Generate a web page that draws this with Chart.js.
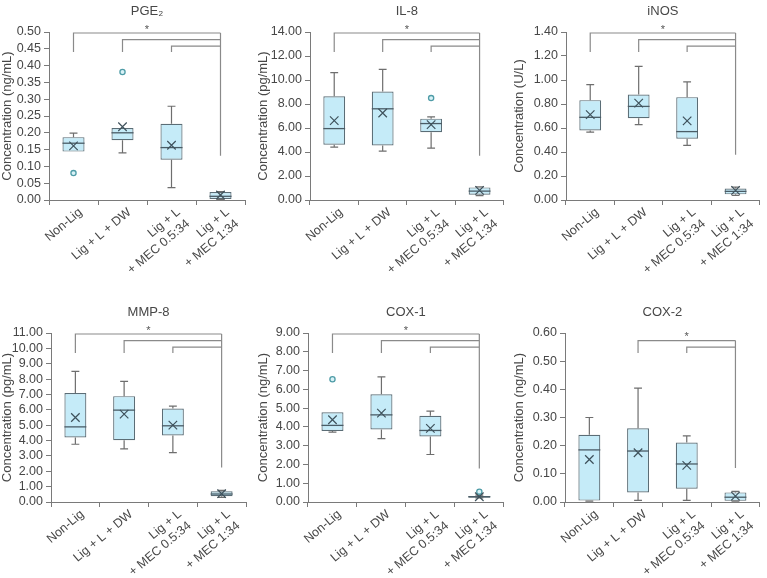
<!DOCTYPE html>
<html lang="en">
<head>
  <meta charset="UTF-8" />
  <title>Box plots</title>
  <script src="https://cdn.jsdelivr.net/npm/chart.js"></script>
  <style>
    html, body { margin: 0; padding: 0; background: #fff; }
    #wrap { position: relative; width: 767px; height: 578px; overflow: hidden; }
    #wrap canvas { position: absolute; }
  </style>
</head>
<body>
  <div id="wrap">
    <canvas id="c0" width="255" height="289" style="left:0;top:0"></canvas>
    <canvas id="c1" width="255" height="289" style="left:256px;top:0"></canvas>
    <canvas id="c2" width="255" height="289" style="left:512px;top:0"></canvas>
    <canvas id="c3" width="255" height="289" style="left:0;top:289px"></canvas>
    <canvas id="c4" width="255" height="289" style="left:256px;top:289px"></canvas>
    <canvas id="c5" width="255" height="289" style="left:512px;top:289px"></canvas>
  </div>

  <script>
    const groups = ['Non-Lig', 'Lig + L + DW', ['Lig + L', '+ MEC 0.5:34'], ['Lig + L', '+ MEC 1:34']];

    // each row: [min, q1, median, q3, max]
    const pge2Box = [[0.144, 0.144, 0.169, 0.187, 0.199], [0.140, 0.178, 0.200, 0.214, 0.214], [0.037, 0.120, 0.156, 0.227, 0.279], [0.002, 0.003, 0.011, 0.024, 0.025]];
    const pge2Mean = [0.161, 0.218, 0.163, 0.015];
    const pge2Out = [0.080, 0.381, null, null];
    const pge2Axis = [0.5, 0.05];
    const pge2Sig = [0, 1, 2];
    const pge2SigEnd = 0.132;

    const il8Box = [[4.41, 4.60, 5.95, 8.65, 10.61], [4.08, 4.55, 7.60, 9.04, 10.88], [4.33, 5.65, 6.37, 6.78, 6.92], [0.36, 0.44, 0.74, 1.05, 1.10]];
    const il8Mean = [6.61, 7.25, 6.28, 0.80];
    const il8Out = [null, null, 8.49, null];
    const il8Axis = [14, 2];
    const il8Sig = [0, 1, 2];
    const il8SigEnd = 3.69;

    const inosBox = [[0.565, 0.579, 0.689, 0.832, 0.962], [0.628, 0.681, 0.780, 0.879, 1.113], [0.455, 0.510, 0.570, 0.857, 0.984], [0.039, 0.047, 0.072, 0.096, 0.107]];
    const inosMean = [0.711, 0.807, 0.659, 0.080];
    const inosOut = [null, null, null, null];
    const inosAxis = [1.4, 0.2];
    const inosSig = [0, 1, 2];
    const inosSigEnd = 0.377;

    const mmp8Box = [[3.76, 4.20, 4.89, 7.09, 8.50], [3.46, 4.02, 5.98, 6.89, 7.85], [3.22, 4.33, 4.96, 6.09, 6.24], [0.30, 0.37, 0.52, 0.70, 0.76]];
    const mmp8Mean = [5.50, 5.72, 5.00, 0.54];
    const mmp8Out = [null, null, null, null];
    const mmp8Axis = [11, 1];
    const mmp8Sig = [0, 1, 2];
    const mmp8SigEnd = 2.24;

    const cox1Box = [[3.72, 3.78, 4.08, 4.78, 4.78], [3.38, 3.86, 4.64, 5.74, 6.66], [2.53, 3.49, 3.81, 4.59, 4.84], [0.22, 0.23, 0.28, 0.32, 0.37]];
    const cox1Mean = [4.38, 4.73, 3.92, 0.28];
    const cox1Out = [6.54, null, null, 0.55];
    const cox1Axis = [9, 1];
    const cox1Sig = [0, 1, 2];
    const cox1SigEnd = 1.79;

    const cox2Box = [[0.003, 0.005, 0.185, 0.239, 0.300], [0.006, 0.034, 0.181, 0.262, 0.404], [0.006, 0.047, 0.135, 0.211, 0.235], [0.003, 0.004, 0.017, 0.034, 0.038]];
    const cox2Mean = [0.151, 0.175, 0.130, 0.021];
    const cox2Out = [null, null, null, null];
    const cox2Axis = [0.6, 0.1];
    const cox2Sig = [1, 2];
    const cox2SigEnd = 0.121;

    const FONT = 'Liberation Sans, Arial, sans-serif';
    const TEXT = '#474747';
    const AXIS = '#7a7a7a';

    // whiskers, medians and the significance brackets
    const boxExtras = {
      id: 'boxExtras',
      afterDatasetDraw(chart, args, opts) {
        if (args.index !== 0) return;
        const ctx = chart.ctx;
        const y = chart.scales.y;
        const meta = chart.getDatasetMeta(0);
        ctx.save();
        opts.box.forEach((b, i) => {
          const bar = meta.data[i];
          const cx = bar.x, w = bar.width, cap = w * 0.36;
          ctx.strokeStyle = '#6e6e6e';
          ctx.lineWidth = 1.2;
          ctx.beginPath();
          if (b[4] > b[3]) {
            ctx.moveTo(cx, y.getPixelForValue(b[3]));
            ctx.lineTo(cx, y.getPixelForValue(b[4]));
            ctx.moveTo(cx - cap / 2, y.getPixelForValue(b[4]));
            ctx.lineTo(cx + cap / 2, y.getPixelForValue(b[4]));
          }
          if (b[0] < b[1]) {
            ctx.moveTo(cx, y.getPixelForValue(b[1]));
            ctx.lineTo(cx, y.getPixelForValue(b[0]));
            ctx.moveTo(cx - cap / 2, y.getPixelForValue(b[0]));
            ctx.lineTo(cx + cap / 2, y.getPixelForValue(b[0]));
          }
          ctx.stroke();
          ctx.strokeStyle = '#4a5c66';
          ctx.lineWidth = 1.3;
          ctx.beginPath();
          ctx.moveTo(cx - w / 2, y.getPixelForValue(b[2]));
          ctx.lineTo(cx + w / 2, y.getPixelForValue(b[2]));
          ctx.stroke();
        });
        ctx.restore();
      },
      afterDraw(chart, args, opts) {
        const ctx = chart.ctx;
        const { x, y } = chart.scales;
        const top = chart.chartArea.top;
        const xr = x.getPixelForValue(3);
        const level = g => top + 1 + 6.6 * g;
        ctx.save();
        ctx.strokeStyle = '#8a8a8a';
        ctx.lineWidth = 1.2;
        ctx.beginPath();
        opts.sig.forEach(g => {
          const xl = x.getPixelForValue(g);
          ctx.moveTo(xl, top + 20);
          ctx.lineTo(xl, level(g));
          ctx.lineTo(xr, level(g));
        });
        ctx.moveTo(xr, level(opts.sig[0]));
        ctx.lineTo(xr, y.getPixelForValue(opts.sigEnd));
        ctx.stroke();
        ctx.fillStyle = '#555';
        ctx.font = '11px ' + FONT;
        ctx.textAlign = 'center';
        ctx.textBaseline = 'top';
        ctx.fillText('*', (x.getPixelForValue(opts.sig[0]) + xr) / 2, level(opts.sig[0]) - 9);
        ctx.restore();
      }
    };

    const panels = [
      { id: 'c0', title: 'PGE₂', unit: 'Concentration (ng/mL)', box: pge2Box, mean: pge2Mean, out: pge2Out, axis: pge2Axis, sig: pge2Sig, sigEnd: pge2SigEnd, left: 49, right: 10, titleTop: 4, xh: 89 },
      { id: 'c1', title: 'IL-8', unit: 'Concentration (pg/mL)', box: il8Box, mean: il8Mean, out: il8Out, axis: il8Axis, sig: il8Sig, sigEnd: il8SigEnd, left: 54, right: 6, titleTop: 4, xh: 89 },
      { id: 'c2', title: 'iNOS', unit: 'Concentration (U/L)', box: inosBox, mean: inosMean, out: inosOut, axis: inosAxis, sig: inosSig, sigEnd: inosSigEnd, left: 54, right: 6, titleTop: 4, xh: 89 },
      { id: 'c3', title: 'MMP-8', unit: 'Concentration (pg/mL)', box: mmp8Box, mean: mmp8Mean, out: mmp8Out, axis: mmp8Axis, sig: mmp8Sig, sigEnd: mmp8SigEnd, left: 51, right: 9, titleTop: 16, xh: 76 },
      { id: 'c4', title: 'COX-1', unit: 'Concentration (ng/mL)', box: cox1Box, mean: cox1Mean, out: cox1Out, axis: cox1Axis, sig: cox1Sig, sigEnd: cox1SigEnd, left: 52, right: 6, titleTop: 16, xh: 76 },
      { id: 'c5', title: 'COX-2', unit: 'Concentration (ng/mL)', box: cox2Box, mean: cox2Mean, out: cox2Out, axis: cox2Axis, sig: cox2Sig, sigEnd: cox2SigEnd, left: 53, right: 6, titleTop: 16, xh: 76 }
    ];

    panels.forEach(p => {
      new Chart(document.getElementById(p.id), {
        type: 'bar',
        data: {
          labels: groups,
          datasets: [
            {
              type: 'bar',
              data: p.box.map(b => [b[1], b[3]]),
              backgroundColor: '#c5ebf8',
              borderColor: '#5b6d76',
              borderWidth: 1.2,
              borderSkipped: false,
              barPercentage: 0.45,
              categoryPercentage: 1,
              order: 2
            },
            {
              type: 'line',
              data: p.mean,
              showLine: false,
              pointStyle: 'crossRot',
              pointRadius: 6,
              pointBorderColor: '#3f525c',
              pointBorderWidth: 1.2,
              order: 0
            },
            {
              type: 'line',
              data: p.out,
              showLine: false,
              pointStyle: 'circle',
              pointRadius: 2.6,
              pointBackgroundColor: '#d9f2f7',
              pointBorderColor: '#4f9ca7',
              pointBorderWidth: 1.3,
              order: 1
            }
          ]
        },
        options: {
          responsive: false,
          animation: false,
          layout: { padding: { left: 0, right: p.right, top: 0, bottom: 0 } },
          plugins: {
            legend: { display: false },
            tooltip: { enabled: false },
            title: {
              display: true,
              fullSize: false,
              text: p.title,
              color: TEXT,
              font: { family: FONT, size: 13, weight: 'normal' },
              padding: { top: p.titleTop, bottom: 12.4 }
            },
            boxExtras: { box: p.box, sig: p.sig, sigEnd: p.sigEnd }
          },
          scales: {
            x: {
              grid: { display: true, drawOnChartArea: false, tickLength: 5, color: AXIS, offset: true },
              border: { color: AXIS },
              ticks: { autoSkip: false, minRotation: 40, maxRotation: 40, labelOffset: 7, color: TEXT, font: { family: FONT, size: 12.5 }, padding: 0 },
              afterFit: s => { s.height = p.xh; }
            },
            y: {
              min: 0,
              max: p.axis[0],
              ticks: { autoSkip: false, stepSize: p.axis[1], color: TEXT, font: { family: FONT, size: 12.5 }, padding: 3, callback: v => v.toFixed(2) },
              grid: { drawOnChartArea: false, tickLength: 5, color: AXIS },
              border: { color: AXIS },
              title: { display: true, text: p.unit, color: TEXT, font: { family: FONT, size: 13 }, padding: 0 },
              afterFit: s => { s.width = p.left; }
            }
          }
        },
        plugins: [boxExtras]
      });
    });
  </script>
</body>
</html>
